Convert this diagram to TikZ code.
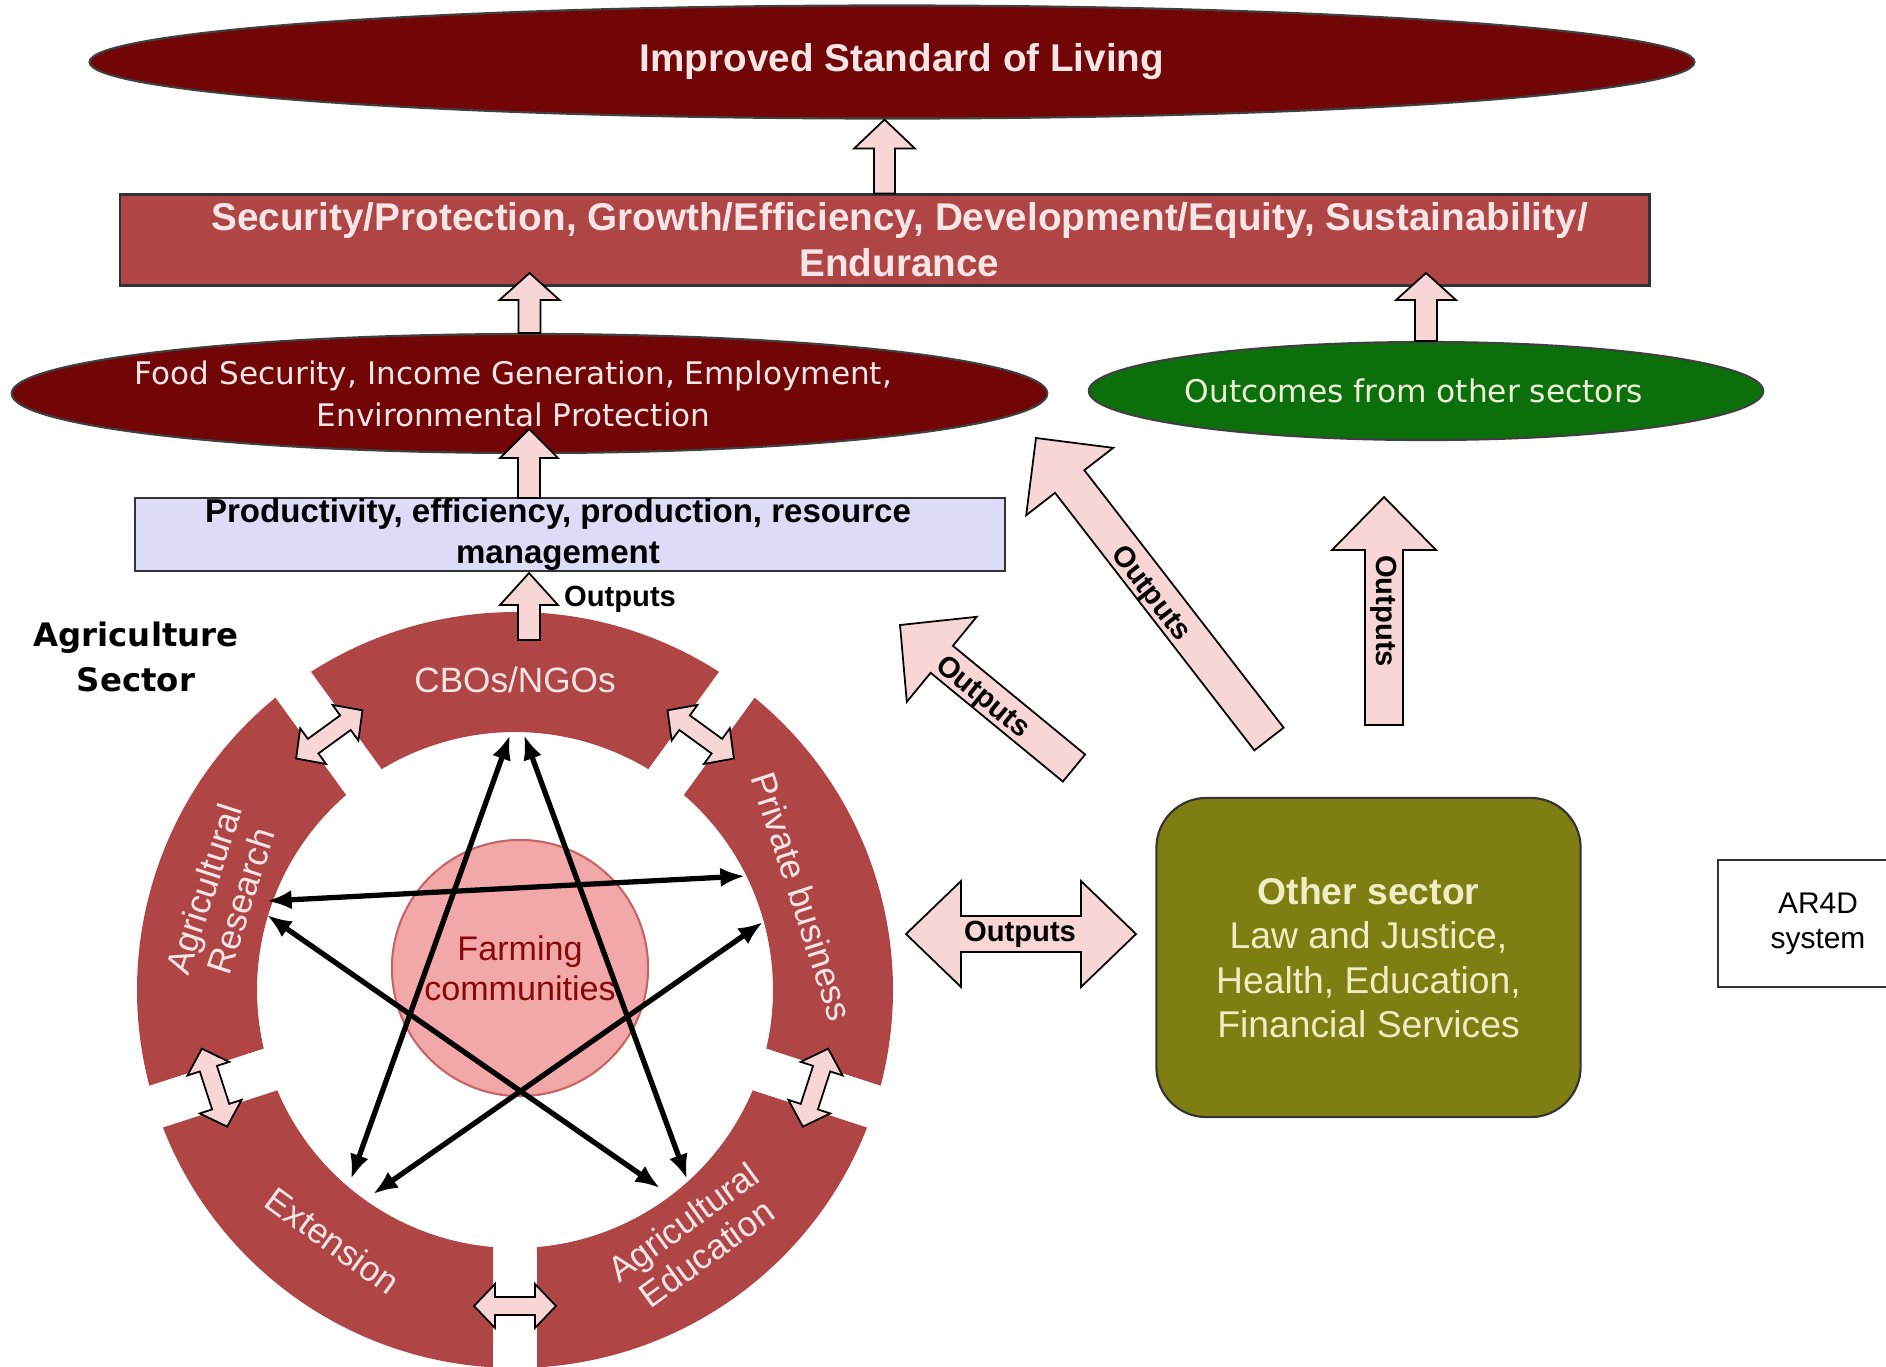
\documentclass[tikz,border=0pt]{standalone}
\usepackage{fontspec}
\setmainfont{Liberation Sans}
\newfontfamily\dejavu{DejaVu Sans}
\usepackage{tikz}
\usetikzlibrary{shapes.geometric,calc,arrows.meta}
\definecolor{maroon}{HTML}{720505}
\definecolor{brick}{HTML}{B04545}
\definecolor{leaf}{HTML}{0B700B}
\definecolor{mossbox}{HTML}{7E7E12}
\definecolor{lavender}{HTML}{DCDCF8}
\definecolor{blush}{HTML}{F8D6D6}
\definecolor{rosefill}{HTML}{F2A8A8}
\definecolor{roseline}{HTML}{C86464}
\definecolor{paletext}{HTML}{F8E6E6}
\definecolor{cream}{HTML}{F0ECC4}
\definecolor{leaftext}{HTML}{EEF2D8}
\definecolor{farmtext}{HTML}{880808}

\newcommand{\fsz}[2]{\fontsize{#1}{#2}\selectfont}
% block arrow: tail, tip, half shaft, half head, head length
\newcommand{\blockarrow}[5]{%
  \coordinate (ba-base) at ($(#2)!#5!(#1)$);
  \filldraw[barrow] ($(#1)!#3!90:(#2)$) -- ($(ba-base)!#3!90:(#2)$)
    -- ($(ba-base)!#4!90:(#2)$) -- (#2) -- ($(ba-base)!#4!-90:(#2)$)
    -- ($(ba-base)!#3!-90:(#2)$) -- ($(#1)!#3!-90:(#2)$) -- cycle;}
% double block arrow: end, end, half shaft, half head, head length
\newcommand{\dblarrow}[5]{%
  \coordinate (da-a) at ($(#1)!#5!(#2)$);
  \coordinate (da-b) at ($(#2)!#5!(#1)$);
  \filldraw[barrow] (#1) -- ($(da-a)!#4!90:(#2)$) -- ($(da-a)!#3!90:(#2)$)
    -- ($(da-b)!#3!90:(#2)$) -- ($(da-b)!#4!90:(#2)$) -- (#2)
    -- ($(da-b)!#4!-90:(#2)$) -- ($(da-b)!#3!-90:(#2)$)
    -- ($(da-a)!#3!-90:(#2)$) -- ($(da-a)!#4!-90:(#2)$) -- cycle;}

\begin{document}
\begin{tikzpicture}[x=0.01cm, y=-0.01cm,
  barrow/.style={fill=blush, draw=black, line width=0.5pt, line join=miter},
  oval/.style={ellipse, draw=black!75, line width=0.6pt, inner sep=0pt},
  box/.style={rectangle, draw=black!80, line width=0.6pt, inner sep=0pt},
  lighttxt/.style={text=paletext, align=center, inner sep=0pt},
  outtxt/.style={font=\bfseries\fsz{8.3}{10}, inner sep=0pt},
  segtxt/.style={text=paletext, font=\fsz{10}{11}, align=center, inner sep=0pt},
  starline/.style={line width=1.5pt, {Latex[length=7pt,width=5.5pt]}-{Latex[length=7pt,width=5.5pt]}}]
\useasboundingbox (0,0) rectangle (1886,1366);

% Ring of actors
\begin{scope}[shift={(515,990)}, y=0.01cm]
  \foreach \c in {90,162,234,306,18}
    \fill[brick] ({\c-32.66}:378) arc[start angle=\c-32.66, end angle=\c+32.66, radius=378]
      -- ({\c+31.11}:258) arc[start angle=\c+31.11, end angle=\c-31.11, radius=258] -- cycle;
  \foreach \g [count=\i] in {126,54,-18,-90,198} {
    \coordinate (gap\i-a) at ({\g+7.39}:318.6);
    \coordinate (gap\i-b) at ({\g-7.39}:318.6);
  }
  \node[segtxt] (cbo) at (90:310) {CBOs/NGOs};
  \node[segtxt, rotate=72] (res) at (162:308) {Agricultural\\Research};
  \node[segtxt, rotate=-36] (ext) at (234:310) {Extension};
  \node[segtxt, rotate=36] (edu) at (306:306) {Agricultural\\Education};
  \node[segtxt, rotate=-72] (pvt) at (18:302) {Private business};
\end{scope}
\foreach \i in {1,...,5} {
  \dblarrow{gap\i-a}{gap\i-b}{0.09cm}{0.22cm}{0.21cm}
}

% Farming communities and links
\node[circle, fill=rosefill, draw=roseline, line width=0.6pt, minimum size=2.56cm, inner sep=0pt,
  text=farmtext, font=\fsz{9.7}{11.4}, align=center] (farm) at (520,968) {Farming\\communities};
\coordinate (c1) at (510,735);  \coordinate (c2) at (524,735);
\coordinate (r1) at (267,901);  \coordinate (r2) at (267,915);
\coordinate (p1) at (745,876);  \coordinate (p2) at (763,922);
\coordinate (x1) at (351,1179); \coordinate (x2) at (373,1194);
\coordinate (e1) at (660,1188); \coordinate (e2) at (687,1179);
\draw[starline] (c1) -- (x1);
\draw[starline] (c2) -- (e2);
\draw[starline] (r1) -- (p1);
\draw[starline] (r2) -- (e1);
\draw[starline] (p2) -- (x2);

\node[align=center, font=\dejavu\bfseries\fsz{9.2}{12.8}] (agri) at (136,657) {Agriculture\\Sector};

% Outcome levels
\node[oval, fill=maroon, minimum width=16.04cm, minimum height=1.13cm] (goal) at (892,62) {};
\node[lighttxt, font=\bfseries\fsz{11}{13}] (goal-t) at ([xshift=0.1cm]goal.center) {Improved Standard of Living};
\node[box, fill=brick, minimum width=15.29cm, minimum height=0.91cm] (aims) at (884.5,240) {};
\node[lighttxt, font=\bfseries\fsz{11}{13.1}] (aims-t) at ([xshift=0.15cm]aims.center) {Security/Protection, Growth/Efficiency, Development/Equity, Sustainability/\\Endurance};
\node[oval, fill=maroon, minimum width=10.35cm, minimum height=1.19cm] (food) at (529.5,393.5) {};
\node[lighttxt, font=\dejavu\fsz{8.85}{12}] (food-t) at ([xshift=-0.16cm]food.center) {Food Security, Income Generation, Employment,\\Environmental Protection};
\node[oval, fill=leaf, minimum width=6.74cm, minimum height=0.98cm] (other-out) at (1426,391) {};
\node[lighttxt, text=leaftext, font=\dejavu\fsz{8.9}{11}] (other-out-t) at ([xshift=-0.12cm]other-out.center) {Outcomes from other sectors};
\node[box, fill=lavender, minimum width=8.69cm, minimum height=0.73cm] (prod) at (570,534.5) {};
\node[align=center, inner sep=0pt, font=\bfseries\fsz{9.4}{11.7}] (prod-t) at ([xshift=-0.12cm]prod.center) {Productivity, efficiency, production, resource\\management};

% Other sector and AR4D
\node[rectangle, rounded corners=0.5cm, fill=mossbox, draw=black!80, line width=0.6pt,
  minimum width=4.24cm, minimum height=3.19cm, text=cream, align=center,
  font=\fsz{10.6}{12.6}] (othersec) at (1368.5,957.5) {\textbf{Other sector}\\Law and Justice,\\Health, Education,\\Financial Services};
\node[box, fill=white, minimum width=2cm, minimum height=1.27cm, align=center,
  font=\fsz{8.5}{10}] (ar4d) at (1818,923.5) {AR4D\\system};

% Upward arrows
\coordinate (goal-tip) at (aims.north |- goal.south);
\blockarrow{aims.north}{goal-tip}{0.105cm}{0.305cm}{0.29cm}
\coordinate (food-tip) at (529.5,273);
\blockarrow{food.north}{food-tip}{0.11cm}{0.30cm}{0.27cm}
\coordinate (oo-tip) at (1426,273);
\blockarrow{other-out.north}{oo-tip}{0.11cm}{0.30cm}{0.27cm}
\coordinate (prod-up) at (529,498);
\coordinate (prod-tip) at (529,429);
\blockarrow{prod-up}{prod-tip}{0.11cm}{0.29cm}{0.29cm}
\coordinate (cbo-up) at (529,640);
\coordinate (cbo-tip) at (529,573);
\blockarrow{cbo-up}{cbo-tip}{0.11cm}{0.29cm}{0.32cm}
\node[outtxt] (cbo-lbl) at (620,599) {Outputs};

% Outputs arrows
\coordinate (sd-tail) at (1074,768);  \coordinate (sd-tip) at (900,625);
\blockarrow{sd-tail}{sd-tip}{0.175cm}{0.55cm}{0.54cm}
\coordinate (bd-tail) at (1269,739);  \coordinate (bd-tip) at (1036,438);
\blockarrow{bd-tail}{bd-tip}{0.185cm}{0.55cm}{0.55cm}
\coordinate (vt-tail) at (1384,725);  \coordinate (vt-tip) at (1384,497);
\blockarrow{vt-tail}{vt-tip}{0.19cm}{0.52cm}{0.53cm}
\coordinate (hz-l) at (906,934);  \coordinate (hz-r) at (1136,934);
\dblarrow{hz-l}{hz-r}{0.18cm}{0.53cm}{0.55cm}
\node[outtxt, rotate=-39.4] (sd-lbl) at (982,698) {Outputs};
\node[outtxt, rotate=-52.3] (bd-lbl) at (1150,594) {Outputs};
\node[outtxt, rotate=-90] (vt-lbl) at (1384,611) {Outputs};
\node[outtxt] (hz-lbl) at (1020,934) {Outputs};
\end{tikzpicture}
\end{document}
